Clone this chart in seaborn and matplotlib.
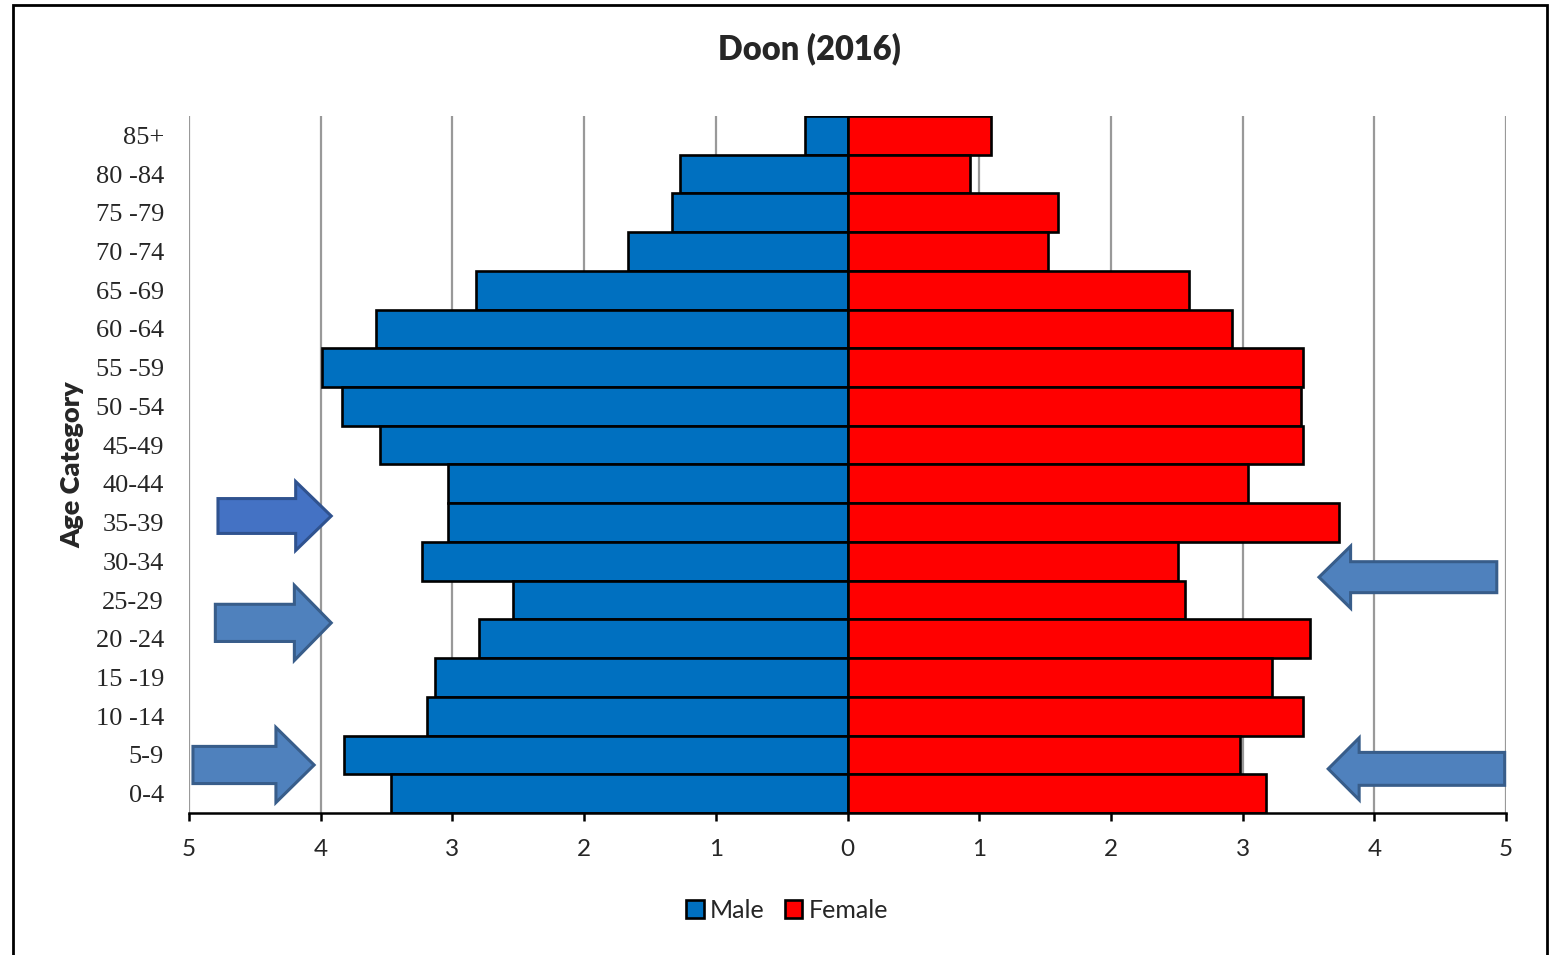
import matplotlib
matplotlib.use("Agg")
import matplotlib.pyplot as plt
import pandas as pd
import seaborn as sns
from matplotlib.patches import FancyArrow, Rectangle

AGES = ["85+", "80 -84", "75 -79", "70 -74", "65 -69", "60 -64", "55 -59", "50 -54",
        "45-49", "40-44", "35-39", "30-34", "25-29", "20 -24", "15 -19", "10 -14",
        "5-9", "0-4"]
MALE = [0.32, 1.27, 1.33, 1.67, 2.82, 3.58, 3.99, 3.84, 3.55, 3.03, 3.03, 3.23,
        2.54, 2.80, 3.13, 3.19, 3.82, 3.47]
FEMALE = [1.09, 0.93, 1.60, 1.52, 2.59, 2.92, 3.46, 3.44, 3.46, 3.04, 3.73, 2.51,
          2.56, 3.51, 3.22, 3.46, 2.98, 3.18]
TICKS = [-5, -4, -3, -2, -1, 0, 1, 2, 3, 4, 5]

MALE_COLOR = "#0070C0"
FEMALE_COLOR = "#FF0000"

# callout arrows: (x start, dx, y, shaft width, head width, head length, fill, edge)
ARROWS = [
    (-4.78, 0.86, 9.83, 0.90, 1.78, 0.27, "#4472C4", "#2F528F"),
    (-4.80, 0.88, 12.59, 0.96, 1.94, 0.28, "#4F81BD", "#385D8A"),
    (-4.97, 0.92, 16.26, 0.96, 1.94, 0.29, "#4F81BD", "#385D8A"),
    (4.93, -1.35, 11.41, 0.80, 1.60, 0.24, "#4F81BD", "#385D8A"),
    (4.99, -1.34, 16.36, 0.85, 1.60, 0.235, "#4F81BD", "#385D8A"),
]

SANS = ["Lato", "DejaVu Sans"]
SERIF = ["Liberation Serif", "DejaVu Serif"]


def build_frame() -> pd.DataFrame:
    male = pd.DataFrame({"age": AGES, "value": [-v for v in MALE], "sex": "Male"})
    female = pd.DataFrame({"age": AGES, "value": FEMALE, "sex": "Female"})
    return pd.concat([male, female], ignore_index=True)


def main() -> None:
    sns.set_style("white")
    plt.rcParams["font.family"] = SANS

    fig = plt.figure(figsize=(15.58, 9.55), dpi=100)
    ax = fig.add_axes([189 / 1558, 1 - 813 / 955, (1506 - 189) / 1558, (813 - 116) / 955])

    ax.set_axisbelow(True)
    ax.grid(axis="x", color="#999999", linewidth=1.6)

    sns.barplot(
        build_frame(), x="value", y="age", hue="sex", order=AGES,
        palette={"Male": MALE_COLOR, "Female": FEMALE_COLOR}, saturation=1,
        dodge=False, width=1.0, edgecolor="black", linewidth=1.9, ax=ax,
    )

    ax.set_xlim(-5, 5)
    ax.set_ylim(len(AGES) - 0.5, -0.5)
    ax.set_xticks(TICKS)
    ax.set_xticklabels([str(abs(t)) for t in TICKS], fontsize=17.5, family=SANS)
    ax.tick_params(axis="x", direction="out", length=6, width=1.8, color="black",
                   pad=13, bottom=True)
    ax.tick_params(axis="y", length=0, pad=18)
    for lbl in ax.get_yticklabels():
        lbl.set_family(SERIF)
        lbl.set_fontsize(19)

    for side in ["left", "right", "top"]:
        ax.spines[side].set_visible(False)
    ax.spines["bottom"].set_color("black")
    ax.spines["bottom"].set_linewidth(1.8)

    ax.set_xlabel("")
    ax.set_ylabel("Age Category", fontsize=19.5, fontweight="heavy", family=SANS, labelpad=8)

    for x, dx, y, w, hw, hl, fc, ec in ARROWS:
        ax.add_patch(FancyArrow(x, y, dx, 0, width=w, head_width=hw, head_length=hl,
                                length_includes_head=True, facecolor=fc, edgecolor=ec,
                                linewidth=2.2, clip_on=False, zorder=5))

    ax.legend_.remove()
    handles, labels = ax.get_legend_handles_labels()
    fig.legend(handles, labels, loc="center", bbox_to_anchor=(787 / 1558, 1 - 910 / 955),
               ncol=2, frameon=False, fontsize=18, handlelength=0.7, handleheight=0.7,
               handletextpad=0.25, columnspacing=0.8)

    fig.text(809 / 1558, 1 - 49 / 955, "Doon (2016)", ha="center", va="center",
             fontsize=23.5, fontweight="heavy", family=SANS)

    fig.patches.append(Rectangle((13 / 1558, -0.05), (1547 - 13) / 1558, 1.05 - 5 / 955,
                                 transform=fig.transFigure, fill=False,
                                 edgecolor="black", linewidth=2))

    fig.savefig("out.png", dpi=100)


if __name__ == "__main__":
    main()
